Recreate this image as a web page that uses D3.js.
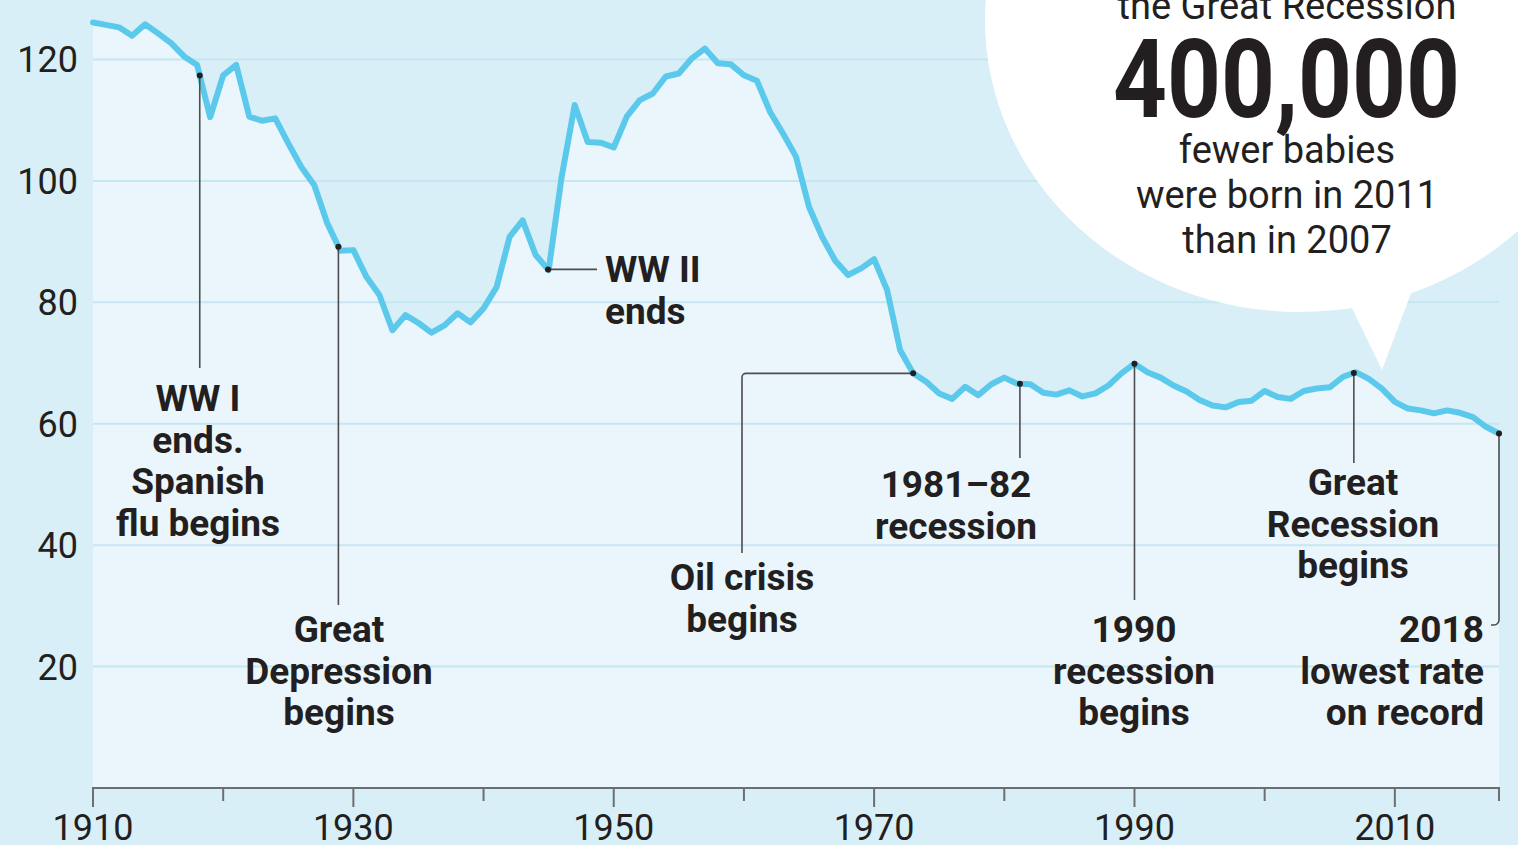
<!DOCTYPE html>
<html>
<head>
<meta charset="utf-8">
<script src="https://cdn.jsdelivr.net/npm/d3@7"></script>
<style>
  html, body { margin: 0; padding: 0; background: #d8eff7; overflow: hidden; }
  svg { display: block; font-family: Roboto, "Liberation Sans", sans-serif; }
</style>
</head>
<body>
<svg id="chart" width="1518" height="845"></svg>
<script>
// births per 1,000 women aged 15-44, one value per year from 1910
var startYear = 1910;
var rates = [
  126.1, 125.7, 125.3, 123.9, 125.8, 124.3, 122.7, 120.5, 119.1, 110.5,
  117.4, 119.1, 110.6, 109.9, 110.3, 106.2, 102.3, 99.3, 93.0, 88.5,
  88.6, 84.2, 81.2, 75.4, 77.9, 76.6, 75.0, 76.2, 78.2, 76.7,
  79.0, 82.5, 90.8, 93.5, 87.8, 85.3, 100.7, 112.5, 106.4, 106.3,
  105.5, 110.6, 113.3, 114.4, 117.2, 117.7, 120.2, 121.8, 119.4, 119.2,
  117.4, 116.5, 111.4, 107.8, 104.0, 95.7, 90.8, 86.9, 84.5, 85.6,
  87.1, 82.0, 72.1, 68.3, 66.9, 65.0, 64.1, 66.1, 64.7, 66.5,
  67.6, 66.6, 66.5, 65.1, 64.8, 65.5, 64.5, 65.0, 66.3, 68.3,
  69.9, 68.5, 67.6, 66.3, 65.3, 63.9, 63.0, 62.7, 63.6, 63.8,
  65.4, 64.4, 64.1, 65.4, 65.8, 66.0, 67.7, 68.5, 67.4, 65.8,
  63.6, 62.5, 62.2, 61.7, 62.2, 61.8, 61.1, 59.5, 58.4
];
var yTicks = [20, 40, 60, 80, 100, 120];
var xTicks = [1910, 1920, 1930, 1940, 1950, 1960, 1970, 1980, 1990, 2000, 2010, 2018];
var xLabels = [1910, 1930, 1950, 1970, 1990, 2010];

// events marked on the line
var eventYears = [1918.2, 1928.85, 1944.95, 1973.0, 1981.2, 1990.0, 2006.85, 2018];
var eventLabels = [
  ["WW I", "ends.", "Spanish", "flu begins"],
  ["Great", "Depression", "begins"],
  ["WW II", "ends"],
  ["Oil crisis", "begins"],
  ["1981\u201382", "recession"],
  ["1990", "recession", "begins"],
  ["Great", "Recession", "begins"],
  ["2018", "lowest rate", "on record"]
];

// speech bubble text
var bubbleLines = ["the Great Recession", "fewer babies", "were born in 2011", "than in 2007"];
var bubbleNumber = "400,000";

var Chart = Chart || {};

Chart.draw = function() {
  var svg = d3.select("#chart");
  var data = rates.map(function(v, i) { return { year: startYear + i, value: v }; });

  var x = d3.scaleLinear().domain([1910, 2018]).range([93, 1499]);
  var y = d3.scaleLinear().domain([0, 120]).range([788, 59.5]);
  // piecewise lookup so the event dots sit on the line
  var onLine = d3.scaleLinear().domain(data.map(function(d) { return d.year; })).range(rates);

  // light area under the line
  var area = d3.area()
    .x(function(d) { return x(d.year); })
    .y0(y(0))
    .y1(function(d) { return y(d.value); });
  svg.append("path").datum(data)
    .attr("d", area)
    .attr("fill", "#eaf6fb");

  // gridlines
  svg.append("g").selectAll("line").data(yTicks).enter().append("line")
    .attr("x1", x(1910)).attr("x2", x(2018))
    .attr("y1", function(d) { return y(d); })
    .attr("y2", function(d) { return y(d); })
    .attr("stroke", "#c6e6f2")
    .attr("stroke-width", 2);

  // y labels
  svg.append("g").selectAll("text").data(yTicks).enter().append("text")
    .attr("x", 78)
    .attr("y", function(d) { return y(d); })
    .attr("dy", "0.36em")
    .attr("text-anchor", "end")
    .attr("font-size", "36px")
    .attr("fill", "#231f20")
    .text(function(d) { return d; });

  // x axis
  var axis = svg.append("g");
  axis.append("line")
    .attr("x1", x(1910) - 1).attr("x2", x(2018) + 1)
    .attr("y1", y(0)).attr("y2", y(0))
    .attr("stroke", "#6d6e70").attr("stroke-width", 2);
  axis.selectAll("line.tick").data(xTicks).enter().append("line")
    .attr("class", "tick")
    .attr("x1", function(d) { return x(d); })
    .attr("x2", function(d) { return x(d); })
    .attr("y1", y(0))
    .attr("y2", function(d) { return xLabels.indexOf(d) >= 0 ? y(0) + 19 : y(0) + 13; })
    .attr("stroke", "#6d6e70").attr("stroke-width", 2);
  axis.selectAll("text").data(xLabels).enter().append("text")
    .attr("x", function(d) { return x(d); })
    .attr("y", 840)
    .attr("text-anchor", "middle")
    .attr("font-size", "36px")
    .attr("fill", "#231f20")
    .text(function(d) { return d; });

  // the rate line
  var line = d3.line()
    .x(function(d) { return x(d.year); })
    .y(function(d) { return y(d.value); });
  svg.append("path").datum(data)
    .attr("d", line)
    .attr("fill", "none")
    .attr("stroke", "#5bc9eb")
    .attr("stroke-width", 6)
    .attr("stroke-linejoin", "round")
    .attr("stroke-linecap", "round");

  // connectors and labels, one layout entry per event
  var layout = [
    { tx: 198,  ty: 411, anchor: "middle", end: 368 },
    { tx: 339,  ty: 642, anchor: "middle", end: 605 },
    { tx: 605,  ty: 282, anchor: "start",  side: 597 },
    { tx: 742,  ty: 590, anchor: "middle", elbow: 742, end: 553 },
    { tx: 956,  ty: 497, anchor: "middle", end: 458 },
    { tx: 1134, ty: 642, anchor: "middle", end: 600 },
    { tx: 1353, ty: 495, anchor: "middle", end: 463 },
    { tx: 1484, ty: 642, anchor: "end",    end: 620, hook: 1491 }
  ];

  var notes = svg.append("g");
  eventYears.forEach(function(yr, i) {
    var px = x(yr), py = y(onLine(yr)), l = layout[i];
    var p = d3.path();
    p.moveTo(px, py);
    if (l.side) {
      p.lineTo(l.side, py);
    } else if (l.elbow) {
      p.lineTo(l.elbow + 4, py);
      p.arcTo(l.elbow, py, l.elbow, py + 4, 4);
      p.lineTo(l.elbow, l.end);
    } else if (l.hook) {
      p.lineTo(px, l.end);
      p.arcTo(px, l.end + 5, px - 5, l.end + 5, 5);
      p.lineTo(l.hook, l.end + 5);
    } else {
      p.lineTo(px, l.end);
    }
    notes.append("path")
      .attr("d", p.toString())
      .attr("fill", "none")
      .attr("stroke", "#4d4d4f")
      .attr("stroke-width", 1.6);
    notes.append("circle")
      .attr("cx", px).attr("cy", py).attr("r", 3)
      .attr("fill", "#231f20");

    var t = notes.append("text")
      .attr("text-anchor", l.anchor)
      .attr("font-size", "37px")
      .attr("font-weight", 700)
      .attr("fill", "#231f20");
    eventLabels[i].forEach(function(s, k) {
      t.append("tspan")
        .attr("x", l.tx)
        .attr("y", l.ty + k * 41.5)
        .text(s);
    });
  });

  // speech bubble
  var bubble = svg.append("g");
  bubble.append("ellipse")
    .attr("cx", 1300).attr("cy", 20)
    .attr("rx", 315).attr("ry", 292)
    .attr("fill", "#ffffff");
  bubble.append("path")
    .attr("d", "M1348,300 L1382,370 L1416,280 Z")
    .attr("fill", "#ffffff");

  bubble.append("text")
    .attr("x", 1287).attr("y", 19)
    .attr("text-anchor", "middle")
    .attr("font-size", "38px")
    .attr("fill", "#231f20")
    .text(bubbleLines[0]);
  bubble.append("text")
    .attr("x", 1113).attr("y", 117)
    .attr("font-size", "110px")
    .attr("font-weight", 700)
    .attr("textLength", 347)
    .attr("lengthAdjust", "spacingAndGlyphs")
    .attr("fill", "#231f20")
    .text(bubbleNumber);
  bubble.selectAll("text.sub").data(bubbleLines.slice(1)).enter().append("text")
    .attr("class", "sub")
    .attr("x", 1287)
    .attr("y", function(d, i) { return 163 + i * 45; })
    .attr("text-anchor", "middle")
    .attr("font-size", "38px")
    .attr("fill", "#231f20")
    .text(function(d) { return d; });
};

window.addEventListener("load", Chart.draw, false);
</script>
</body>
</html>
